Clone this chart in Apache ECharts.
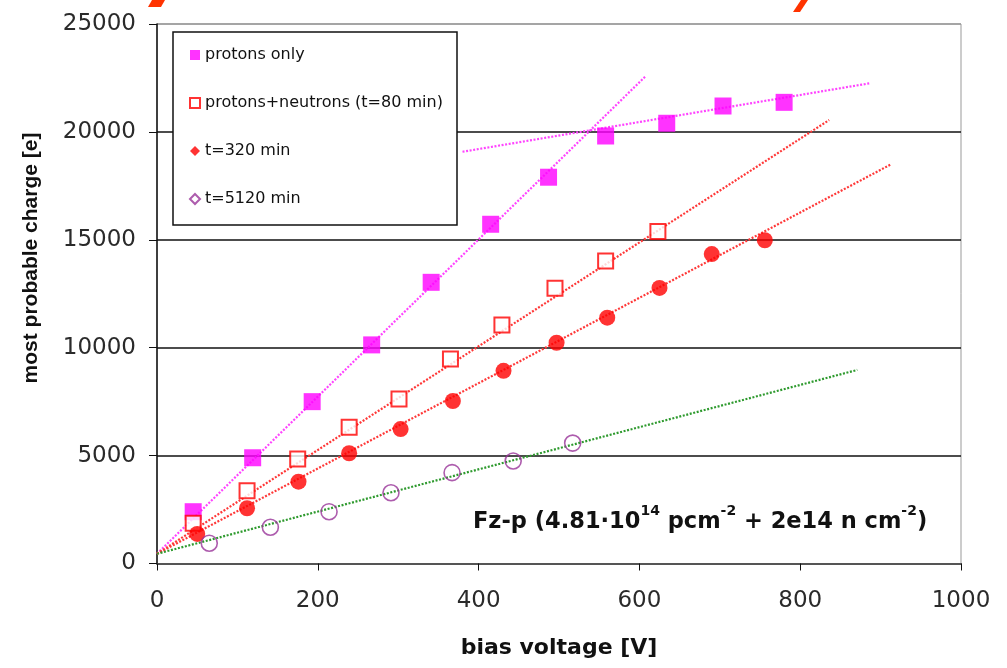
<!DOCTYPE html>
<html>
<head>
<meta charset="utf-8">
<script src="https://cdn.jsdelivr.net/npm/echarts@6/dist/echarts.min.js"></script>
<style>
  html, body { margin: 0; padding: 0; background: #fff; }
  #chart { width: 1007px; height: 668px; }
</style>
</head>
<body>
<div id="chart"></div>
<script>
// Bias voltage [V] and most probable charge [e] per irradiation stage
const protonsOnlyV = [45, 119, 193, 267, 341, 415, 487, 558, 634, 704, 780];
const protonsOnlyQ = [2400, 4900, 7500, 10130, 13030, 15720, 17900, 19810, 20400, 21200, 21370];

const pnV = [45, 112, 175, 239, 301, 365, 429, 495, 558, 623];
const pnQ = [1860, 3370, 4840, 6310, 7620, 9480, 11050, 12750, 14020, 15390];

const t320V = [50, 112, 176, 239, 303, 368, 431, 497, 560, 625, 690, 756];
const t320Q = [1370, 2560, 3790, 5110, 6230, 7530, 8930, 10230, 11390, 12770, 14340, 14980];

const t5120V = [65, 141, 214, 291, 367, 443, 517];
const t5120Q = [940, 1680, 2400, 3280, 4210, 4750, 5580];

// Linear fits: [startV, startQ, endV, endQ]
const fitProtonsRise = [0, 450, 608, 22590];
const fitProtonsPlateau = [380, 19080, 886, 22250];
const fitPn = [0, 450, 836, 20550];
const fitT320 = [0, 450, 913, 18500];
const fitT5120 = [0, 450, 871, 8970];

const seriesNames = ['protons only', 'protons+neutrons (t=80 min)', 't=320 min', 't=5120 min'];
const xTicks = [0, 200, 400, 600, 800, 1000];
const yTicks = [0, 5000, 10000, 15000, 20000, 25000];

const WIDE = "'DejaVu Sans', Verdana, sans-serif";

function pairs(xs, ys) { return xs.map((x, i) => [x, ys[i]]); }
function fitData(f) { return [[f[0], f[1]], [f[2], f[3]]]; }

function fitSeries(f, color) {
  return {
    type: 'line',
    data: fitData(f),
    showSymbol: false,
    symbol: 'none',
    silent: true,
    z: 2,
    lineStyle: { color: color, width: 2.2, type: [2, 1.6] },
    legendHoverLink: false
  };
}

const chart = echarts.init(document.getElementById('chart'), null, { renderer: 'canvas' });

chart.setOption({
  animation: false,
  backgroundColor: '#fff',
  grid: {
    left: 157, top: 24, right: 46, bottom: 104.5,
    show: true, borderColor: '#999', borderWidth: 1, backgroundColor: 'transparent'
  },
  xAxis: {
    type: 'value',
    min: xTicks[0], max: xTicks[xTicks.length - 1], interval: 200,
    name: 'bias voltage [V]',
    nameLocation: 'middle',
    nameGap: 74,
    nameTextStyle: { fontFamily: WIDE, fontSize: 22, fontWeight: 'bold', color: '#111' },
    axisLine: { show: true, lineStyle: { color: '#555', width: 2 } },
    axisTick: { show: true, inside: false, length: 7, lineStyle: { color: '#111', width: 1 } },
    axisLabel: { fontFamily: WIDE, fontSize: 23, color: '#2a2a2a', margin: 26, formatter: v => String(v) },
    splitLine: { show: false }
  },
  yAxis: {
    type: 'value',
    min: yTicks[0], max: yTicks[yTicks.length - 1], interval: 5000,
    axisLine: { show: true, lineStyle: { color: '#111', width: 1.5 } },
    axisTick: { show: true, inside: false, length: 8, lineStyle: { color: '#111', width: 1 } },
    axisLabel: { fontFamily: WIDE, fontSize: 23, color: '#2a2a2a', margin: 21, formatter: v => String(v) },
    splitLine: {
      show: true,
      lineStyle: { color: ['#555', '#111', '#111', '#111', '#111', '#999'], width: 1.5 }
    }
  },
  legend: {
    orient: 'vertical',
    left: 189,
    top: 47,
    padding: 0,
    z: 100,
    itemWidth: 10,
    itemHeight: 10,
    itemGap: 32,
    textStyle: { fontFamily: WIDE, fontSize: 16, color: '#111', lineHeight: 16 },
    data: [
      { name: seriesNames[0], icon: 'rect' },
      { name: seriesNames[1], icon: 'rect' },
      { name: seriesNames[2], icon: 'diamond' },
      { name: seriesNames[3], icon: 'diamond' }
    ]
  },
  graphic: [
    {
      type: 'rect',
      shape: { x: 173, y: 32, width: 284, height: 193 },
      style: { fill: '#fff', stroke: '#111', lineWidth: 1.5 },
      z: 50
    },
    {
      type: 'text',
      x: 31,
      y: 258,
      rotation: Math.PI / 2,
      z: 60,
      style: {
        text: 'most probable charge [e]',
        font: "bold 21px 'Liberation Sans', Arial, sans-serif",
        fill: '#111',
        align: 'center',
        verticalAlign: 'middle'
      }
    },
    {
      type: 'text',
      left: 473,
      top: 504,
      z: 60,
      style: {
        text: '{a|Fz-p (4.81·10}{s|14}{a| pcm}{s|-2}{a| + 2e14 n cm}{s|-2}{a|)}',
        rich: {
          a: { fontFamily: WIDE, fontSize: 22.5, fontWeight: 'bold', fill: '#111', lineHeight: 30, verticalAlign: 'bottom' },
          s: { fontFamily: WIDE, fontSize: 14, fontWeight: 'bold', fill: '#111', lineHeight: 30, verticalAlign: 'top' }
        }
      }
    },
    // fragments of a red heading cut off by the top edge
    {
      type: 'polygon',
      shape: { points: [[152, 0], [165, 0], [161, 7], [148, 7]] },
      style: { fill: '#ff3300' },
      z: 60
    },
    {
      type: 'polygon',
      shape: { points: [[801, 0], [808, 0], [800, 12], [793, 12]] },
      style: { fill: '#ff3300' },
      z: 60
    }
  ],
  series: [
    fitSeries(fitProtonsRise, '#ff44ff'),
    fitSeries(fitProtonsPlateau, '#ff44ff'),
    fitSeries(fitPn, '#ff3838'),
    fitSeries(fitT320, '#ff3838'),
    fitSeries(fitT5120, '#2e9a2e'),
    {
      name: seriesNames[0],
      type: 'scatter',
      data: pairs(protonsOnlyV, protonsOnlyQ),
      symbol: 'rect',
      symbolSize: 17,
      z: 5,
      itemStyle: { color: '#ff00ff' }
    },
    {
      name: seriesNames[1],
      type: 'scatter',
      data: pairs(pnV, pnQ),
      symbol: 'rect',
      symbolSize: 15,
      z: 5,
      itemStyle: { color: '#ffffff', borderColor: '#ff0000', borderWidth: 2 }
    },
    {
      name: seriesNames[2],
      type: 'scatter',
      data: pairs(t320V, t320Q),
      symbol: 'circle',
      symbolSize: 16,
      z: 5,
      itemStyle: { color: '#ff0000' }
    },
    {
      name: seriesNames[3],
      type: 'scatter',
      data: pairs(t5120V, t5120Q),
      symbol: 'circle',
      symbolSize: 16,
      z: 5,
      itemStyle: { color: 'rgba(255,255,255,0)', borderColor: '#993399', borderWidth: 1.6 }
    }
  ]
});
</script>
</body>
</html>
